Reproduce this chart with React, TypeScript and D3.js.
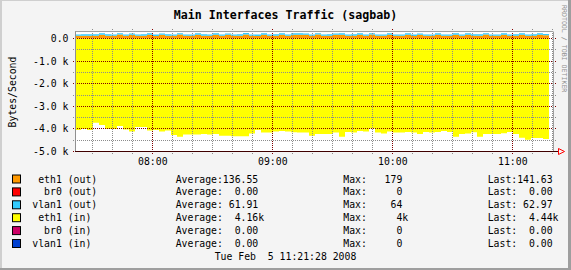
import React from 'react';
import * as d3 from 'd3';

// ---------- data ----------
const startTime = new Date(2008, 1, 5, 7, 21, 20);
const endTime = new Date(2008, 1, 5, 11, 20, 20);
const stepMs = 3 * 60 * 1000;

// eth1 (in), bytes/s (drawn negative)
const eth1In = [
  4044, 4000, 4044, 3733, 3822, 4000, 4000, 3867, 4031, 4120,
  3911, 3911, 4075, 4044, 4120, 4075, 4267, 4342, 4253, 4253,
  4253, 4222, 4253, 4222, 4298, 4298, 4324, 4324, 4324, 4209,
  4044, 4164, 4164, 4120, 4089, 4120, 4147, 4164, 4164, 4298,
  4222, 4222, 4222, 4164, 4342, 4133, 4164, 4089, 4120, 3987,
  4164, 4209, 4120, 4164, 4164, 4133, 4164, 4222, 4133, 4164,
  4133, 4089, 4133, 4342, 4231, 4209, 4147, 4342, 4231, 4231,
  4231, 4187, 4133, 4231, 4387, 4476, 4400, 4400, 4444,
];

// eth1 (out), bytes/s
const eth1Out = [
  118, 122, 120, 125, 168, 121, 117, 172, 119, 165,
  118, 123, 170, 116, 166, 121, 119, 174, 120, 117,
  169, 122, 118, 171, 120, 164, 117, 121, 179, 119,
  116, 167, 120, 122, 170, 118, 165, 168, 163, 117,
  172, 119, 121, 166, 170, 118, 120, 169, 117, 173,
  122, 119, 167, 118, 121, 170, 116, 165, 120, 118,
  171, 122, 117, 168, 120, 166, 119, 121, 172, 118,
  120, 169, 117, 122, 170, 119, 121, 168, 141.63,
];

// vlan1 (out), bytes/s
const vlan1Out = [
  62, 61, 63, 62, 60, 64, 62, 61, 63, 62,
  61, 62, 64, 63, 61, 62, 60, 63, 62, 64,
  61, 62, 63, 62, 61, 60, 62, 63, 64, 62,
  61, 63, 62, 62, 61, 64, 63, 62, 61, 62,
  63, 60, 62, 61, 64, 62, 63, 61, 62, 62,
  60, 63, 64, 62, 61, 62, 63, 62, 61, 64,
  62, 60, 63, 62, 61, 62, 64, 63, 62, 61,
  62, 63, 60, 62, 64, 61, 62, 63, 62.97,
];

const yMajorTicks = [0, -1000, -2000, -3000, -4000, -5000];
const yTickLabels = ['0.0', '-1.0 k', '-2.0 k', '-3.0 k', '-4.0 k', '-5.0 k'];

const legendIfaces = ['eth1', 'br0', 'vlan1', 'eth1', 'br0', 'vlan1'];
const legendDirs = ['out', 'out', 'out', 'in', 'in', 'in'];
const legendColors = ['#FF9900', '#FF0000', '#33CCFF', '#FFFF00', '#CC0066', '#0040D0'];
const legendAvg = [136.55, 0, 61.91, 4160, 0, 0];
const legendMax = [179, 0, 64, 4000, 0, 0];
const legendLast = [141.63, 0, 62.97, 4440, 0, 0];

const titleText = 'Main Interfaces Traffic (sagbab)';
const yAxisTitle = 'Bytes/Second';
const dateText = 'Tue Feb  5 11:21:28 2008';
const watermark = 'RRDTOOL / TOBI OETIKER';

// ---------- layout ----------
const W = 571;
const H = 270;
const PL = 75;
const PR = 553;
const PT = 31.5;
const PB = 151.5;
const MONO = '"DejaVu Sans Mono", monospace';

const fmt2 = (v: number) =>
  v >= 1000 ? (v / 1000).toFixed(2).padStart(6) + 'k' : v.toFixed(2).padStart(6);
const fmt0 = (v: number) =>
  v >= 1000 ? (v / 1000).toFixed(0).padStart(6) + 'k' : v.toFixed(0).padStart(6);

export default function App() {
  const x = d3.scaleTime().domain([startTime, endTime]).range([PL, PR]);
  const y = d3.scaleLinear().domain([-5000, 310]).range([PB, PT]);
  const snap = (v: number) => Math.round(v - 0.5) + 0.5;

  const times = eth1In.map((_, i) => new Date(startTime.getTime() + i * stepMs));
  const lastEnd = new Date(startTime.getTime() + eth1In.length * stepMs);

  type P = { t: Date; y0: number; y1: number };
  const mk = (lo: number[] | null, hi: number[]): P[] => {
    const pts = hi.map((v, i) => ({ t: times[i], y0: lo ? lo[i] : 0, y1: v }));
    const l = pts[pts.length - 1];
    pts.push({ t: lastEnd, y0: l.y0, y1: l.y1 });
    return pts;
  };
  const area = d3
    .area<P>()
    .x((d) => x(d.t))
    .y0((d) => y(d.y0))
    .y1((d) => y(d.y1))
    .curve(d3.curveStepAfter);

  const inNeg = eth1In.map((v) => -v);
  const outTop = eth1Out.map((v, i) => v + vlan1Out[i]);

  const yMinor = d3.range(-5000, 1, 500).filter((v) => v % 1000 !== 0);
  const xMinor = d3.timeMinute.every(10)!.range(startTime, endTime).filter((d) => d.getMinutes() !== 0);
  const xMajor = d3.timeHour.every(1)!.range(startTime, endTime);
  const xFmt = d3.timeFormat('%H:%M');

  const rowY = (i: number) => 179 + i * 12.9;
  const VT = 29;
  const VB = 154;

  return (
    <svg
      width={W}
      height={H}
      style={{ position: 'absolute', left: 0, top: 0, fontFamily: MONO }}
    >
      <rect x={0} y={0} width={W} height={H} fill="#F4F4F4" />
      {/* shade border */}
      <path d={`M0,0 H${W} V1 H2 V${H} H0 Z`} fill="#CFCFCF" />
      <path d={`M${W},${H} H0 V${H - 2} H${W - 3} V0 H${W} Z`} fill="#9E9E9E" />

      {/* title */}
      <text x={285.5} y={19} textAnchor="middle" fontSize={11.6} fontWeight="bold" fill="#000">
        {titleText}
      </text>

      {/* plot background */}
      <rect x={PL} y={PT} width={PR - PL} height={PB - PT} fill="#FFFFFF" />

      {/* areas */}
      <path d={area(mk(null, inNeg)) || ''} fill="#FFFF00" />
      <path d={area(mk(null, eth1Out)) || ''} fill="#FF9900" />
      <path d={area(mk(eth1Out, outTop)) || ''} fill="#33CCFF" />

      {/* minor grid */}
      {yMinor.map((v) => (
        <line key={'ym' + v} x1={PL - 2} x2={PR + 4} y1={snap(y(v))} y2={snap(y(v))}
          stroke="#8C8C8C" strokeWidth={1} strokeDasharray="1,1" />
      ))}
      {xMinor.map((d) => (
        <line key={'xm' + d.getTime()} x1={snap(x(d))} x2={snap(x(d))} y1={VT} y2={VB}
          stroke="#8C8C8C" strokeWidth={1} strokeDasharray="1,1" />
      ))}
      {/* major grid */}
      {yMajorTicks.map((v) => (
        <line key={'yM' + v} x1={PL - 2} x2={PR + 4} y1={snap(y(v))} y2={snap(y(v))}
          stroke="#800000" strokeWidth={1} strokeDasharray="1,1" />
      ))}
      {xMajor.map((d) => (
        <line key={'xM' + d.getTime()} x1={snap(x(d))} x2={snap(x(d))} y1={VT} y2={VB}
          stroke="#800000" strokeWidth={1} strokeDasharray="1,1" />
      ))}

      {/* frame */}
      <line x1={PL} x2={PR} y1={PT} y2={PT} stroke="#A0A0A0" />
      <line x1={PR + 0.5} x2={PR + 0.5} y1={PT} y2={PB} stroke="#A0A0A0" />
      <line x1={PL + 0.5} x2={PL + 0.5} y1={PT} y2={PB} stroke="#909090" />
      <line x1={PL} x2={PR + 5} y1={PB} y2={PB} stroke="#400000" strokeWidth={1} />
      {/* arrow */}
      <path d={`M${PR + 5.5},${PB - 3} L${PR + 11.5},${PB} L${PR + 5.5},${PB + 3} Z`}
        fill="none" stroke="#FF0000" strokeWidth={1} />

      {/* y tick labels */}
      {yMajorTicks.map((v, i) => (
        <text key={'yl' + v} x={68.5} y={snap(y(v)) + 3.5} textAnchor="end" fontSize={9.8} fill="#000">
          {yTickLabels[i]}
        </text>
      ))}
      {/* x tick labels */}
      {xMajor.map((d) => (
        <text key={'xl' + d.getTime()} x={x(d) + 0.5} y={164.5} textAnchor="middle" fontSize={9.8} fill="#000">
          {xFmt(d)}
        </text>
      ))}

      {/* y axis title */}
      <text transform="translate(16,92) rotate(-90)" textAnchor="middle" fontSize={9.8} fill="#000">
        {yAxisTitle}
      </text>

      {/* watermark */}
      <text transform="translate(561.5,5) rotate(90)" fontSize={6.6} fill="#909090">
        {watermark}
      </text>

      {/* legend */}
      {legendIfaces.map((iface, i) => (
        <g key={'lg' + i}>
          <rect x={12.5} y={rowY(i) - 4} width={8} height={8} fill={legendColors[i]} stroke="#000" strokeWidth={1} />
          <text x={32.3} y={rowY(i) + 3.5} fontSize={9.8} fill="#000" style={{ whiteSpace: 'pre' }}>
            {iface.padStart(5) + ' (' + legendDirs[i] + ')'}
          </text>
          <text x={175.7} y={rowY(i) + 3.5} fontSize={9.8} fill="#000" style={{ whiteSpace: 'pre' }}>
            {'Average:' + fmt2(legendAvg[i])}
          </text>
          <text x={343.3} y={rowY(i) + 3.5} fontSize={9.8} fill="#000" style={{ whiteSpace: 'pre' }}>
            {'Max:' + fmt0(legendMax[i])}
          </text>
          <text x={487.7} y={rowY(i) + 3.5} fontSize={9.8} fill="#000" style={{ whiteSpace: 'pre' }}>
            {'Last:' + fmt2(legendLast[i])}
          </text>
        </g>
      ))}

      <text x={285.5} y={259.5} textAnchor="middle" fontSize={9.8} fill="#000" style={{ whiteSpace: 'pre' }}>
        {dateText}
      </text>
    </svg>
  );
}
